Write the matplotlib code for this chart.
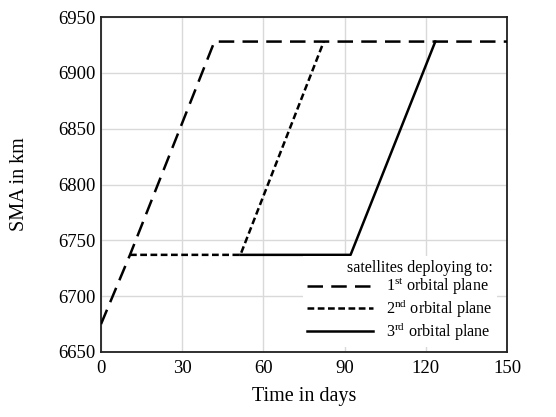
import matplotlib
matplotlib.use("Agg")
import matplotlib.pyplot as plt

plt.rcParams['font.family'] = ['Liberation Serif', 'DejaVu Serif']
plt.rcParams['mathtext.fontset'] = 'custom'
plt.rcParams['mathtext.rm'] = 'Liberation Serif'

# Data (days, SMA km)
s1_days = [0, 10.7, 41.9, 150]
s1_sma = [6675, 6737, 6928, 6928]
s2_days = [10.7, 51.5, 82.3]
s2_sma = [6737, 6737, 6928]
s3_days = [51.5, 92.2, 123.5]
s3_sma = [6737, 6737, 6928]

labels = [r"1$^{\mathrm{st}}$ orbital plane",
          r"2$^{\mathrm{nd}}$ orbital plane",
          r"3$^{\mathrm{rd}}$ orbital plane"]
legend_title = "satellites deploying to:"
x_ticks = [0, 30, 60, 90, 120, 150]
y_ticks = [6650, 6700, 6750, 6800, 6850, 6900, 6950]

fig = plt.figure(figsize=(5.56, 4.17), dpi=100)
ax = fig.add_axes([0.1817, 0.1559, 0.7302, 0.8033])

lw = 1.8
l3, = ax.plot(s3_days, s3_sma, color='black', lw=lw, linestyle='-', zorder=3)
l2, = ax.plot(s2_days, s2_sma, color='black', lw=lw, linestyle=(0, (2.7, 1.4)), zorder=4)
l1, = ax.plot(s1_days, s1_sma, color='black', lw=lw, linestyle=(0, (6.2, 3.3)), zorder=5)

ax.set_xlim(0, 150)
ax.set_ylim(6650, 6950)
ax.set_xticks(x_ticks)
ax.set_yticks(y_ticks)
ax.grid(True, color='#d9d9d9', lw=1.0, zorder=0)
ax.set_axisbelow(True)
ax.tick_params(axis='both', length=0, labelsize=13.5, pad=6)
ax.tick_params(axis='y', pad=4)
for sp in ax.spines.values():
    sp.set_color('#202020')
    sp.set_linewidth(1.3)

ax.set_xlabel("Time in days", fontsize=14.5, labelpad=7)
ax.set_ylabel("SMA in km", fontsize=14.5, labelpad=21)

leg = ax.legend([l1, l2, l3], labels, title=legend_title, loc='lower right',
                bbox_to_anchor=(0.995, -0.008), fontsize=11.6, title_fontsize=11.6,
                frameon=True, framealpha=1, edgecolor='none', facecolor='white',
                handlelength=4.1, handletextpad=0.85, labelspacing=0.0,
                borderpad=0.25, fancybox=False, alignment='right')
leg.set_zorder(6)
leg._legend_box.sep = 0

fig.savefig("out.png", dpi=100)
